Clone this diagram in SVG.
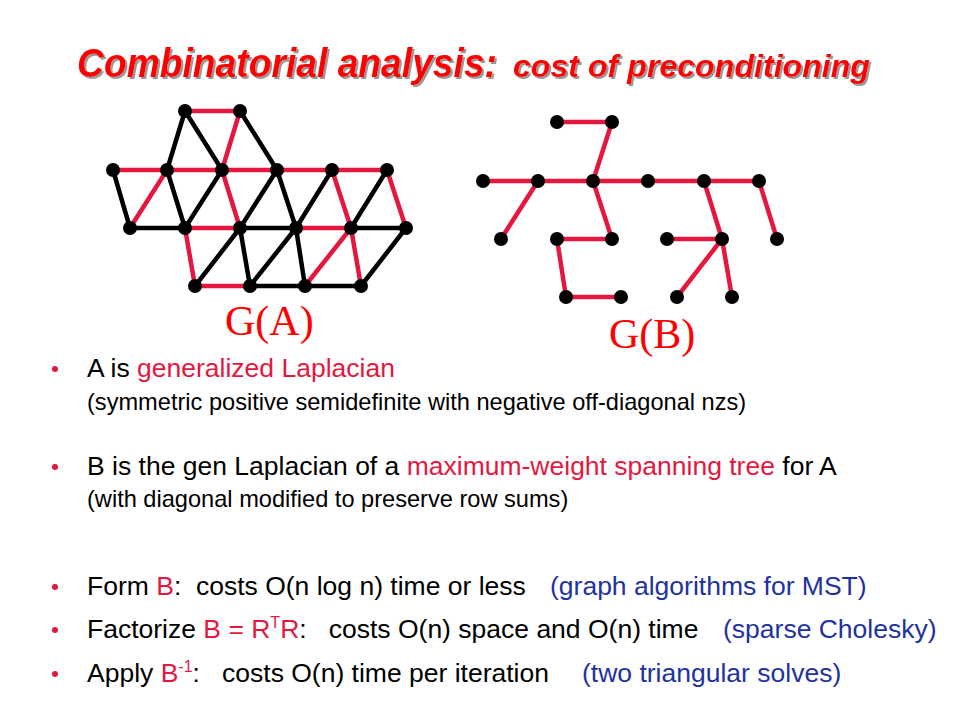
<svg xmlns="http://www.w3.org/2000/svg" width="960" height="720" viewBox="0 0 960 720">
<defs>
<filter id="sh" x="-5%" y="-20%" width="110%" height="150%">
<feDropShadow dx="2" dy="2" stdDeviation="0.6" flood-color="#9a9a9a" flood-opacity="1"/>
</filter>
</defs>
<style>
.r{stroke:#E5173F;stroke-width:4.5;stroke-linecap:round}
.k{stroke:#000;stroke-width:4.5;stroke-linecap:round}
.n{fill:#000}
.t{font-family:"Liberation Sans",Arial,sans-serif;font-size:26.5px;fill:#000;white-space:pre}
.s{font-family:"Liberation Sans",Arial,sans-serif;font-size:23.6px;fill:#000;white-space:pre}
.red{fill:#E5173F}
.blue{fill:#1E32A0}
.g{font-family:"Liberation Serif","Times New Roman",serif;font-size:42px;fill:#F00}
.ttl{font-family:"Liberation Sans",Arial,sans-serif;font-weight:bold;font-style:italic;fill:#F00;filter:url(#sh)}
</style>
<rect width="960" height="720" fill="#fff"/>
<g id="title">
<text class="ttl" x="77" y="77" font-size="40" textLength="420" lengthAdjust="spacingAndGlyphs">Combinatorial analysis:</text>
<text class="ttl" x="513" y="77" font-size="32" textLength="357" lengthAdjust="spacingAndGlyphs">cost of preconditioning</text>
</g>
<g id="connectors-A">
<line class="r" x1="185" y1="111" x2="240" y2="111"/>
<line class="k" x1="185" y1="111" x2="167" y2="170"/>
<line class="k" x1="185" y1="111" x2="222" y2="170"/>
<line class="r" x1="240" y1="111" x2="222" y2="170"/>
<line class="k" x1="240" y1="111" x2="277" y2="170"/>
<line class="r" x1="113" y1="170" x2="387" y2="170"/>
<line class="k" x1="113" y1="170" x2="130" y2="228"/>
<line class="r" x1="167" y1="170" x2="130" y2="228"/>
<line class="k" x1="167" y1="170" x2="185" y2="228"/>
<line class="k" x1="222" y1="170" x2="185" y2="228"/>
<line class="r" x1="222" y1="170" x2="240" y2="228"/>
<line class="k" x1="277" y1="170" x2="240" y2="228"/>
<line class="k" x1="277" y1="170" x2="296" y2="228"/>
<line class="k" x1="332" y1="170" x2="296" y2="228"/>
<line class="r" x1="332" y1="170" x2="351" y2="228"/>
<line class="k" x1="387" y1="170" x2="351" y2="228"/>
<line class="r" x1="387" y1="170" x2="406" y2="228"/>
<line class="k" x1="130" y1="228" x2="185" y2="228"/>
<line class="r" x1="185" y1="228" x2="240" y2="228"/>
<line class="k" x1="240" y1="228" x2="296" y2="228"/>
<line class="r" x1="296" y1="228" x2="351" y2="228"/>
<line class="k" x1="351" y1="228" x2="406" y2="228"/>
<line class="r" x1="185" y1="228" x2="195" y2="286"/>
<line class="k" x1="240" y1="228" x2="195" y2="286"/>
<line class="k" x1="240" y1="228" x2="250" y2="286"/>
<line class="k" x1="296" y1="228" x2="250" y2="286"/>
<line class="k" x1="296" y1="228" x2="305" y2="286"/>
<line class="r" x1="351" y1="228" x2="305" y2="286"/>
<line class="r" x1="351" y1="228" x2="361" y2="286"/>
<line class="k" x1="406" y1="228" x2="361" y2="286"/>
<line class="r" x1="195" y1="286" x2="250" y2="286"/>
<line class="k" x1="250" y1="286" x2="361" y2="286"/>
</g>
<g id="connectors-B">
<line class="r" x1="557" y1="122" x2="612" y2="122"/>
<line class="r" x1="612" y1="122" x2="593" y2="181"/>
<line class="r" x1="483" y1="181" x2="759" y2="181"/>
<line class="r" x1="538" y1="181" x2="501" y2="239"/>
<line class="r" x1="593" y1="181" x2="612" y2="239"/>
<line class="r" x1="557" y1="239" x2="612" y2="239"/>
<line class="r" x1="557" y1="239" x2="566" y2="297"/>
<line class="r" x1="566" y1="297" x2="621" y2="297"/>
<line class="r" x1="704" y1="181" x2="722" y2="239"/>
<line class="r" x1="667" y1="239" x2="722" y2="239"/>
<line class="r" x1="722" y1="239" x2="677" y2="297"/>
<line class="r" x1="722" y1="239" x2="732" y2="297"/>
<line class="r" x1="759" y1="181" x2="777" y2="239"/>
</g>
<g id="nodes-A">
<g id="a-t1"><circle class="n" cx="185" cy="111" r="7"/></g>
<g id="a-t2"><circle class="n" cx="240" cy="111" r="7"/></g>
<g id="a-r2a"><circle class="n" cx="113" cy="170" r="7"/></g>
<g id="a-r2b"><circle class="n" cx="167" cy="170" r="7"/></g>
<g id="a-r2c"><circle class="n" cx="222" cy="170" r="7"/></g>
<g id="a-r2d"><circle class="n" cx="277" cy="170" r="7"/></g>
<g id="a-r2e"><circle class="n" cx="332" cy="170" r="7"/></g>
<g id="a-r2f"><circle class="n" cx="387" cy="170" r="7"/></g>
<g id="a-r3a"><circle class="n" cx="130" cy="228" r="7"/></g>
<g id="a-r3b"><circle class="n" cx="185" cy="228" r="7"/></g>
<g id="a-r3c"><circle class="n" cx="240" cy="228" r="7"/></g>
<g id="a-r3d"><circle class="n" cx="296" cy="228" r="7"/></g>
<g id="a-r3e"><circle class="n" cx="351" cy="228" r="7"/></g>
<g id="a-r3f"><circle class="n" cx="406" cy="228" r="7"/></g>
<g id="a-r4a"><circle class="n" cx="195" cy="286" r="7"/></g>
<g id="a-r4b"><circle class="n" cx="250" cy="286" r="7"/></g>
<g id="a-r4c"><circle class="n" cx="305" cy="286" r="7"/></g>
<g id="a-r4d"><circle class="n" cx="361" cy="286" r="7"/></g>
</g>
<g id="nodes-B">
<g id="b-t1"><circle class="n" cx="557" cy="122" r="7"/></g>
<g id="b-t2"><circle class="n" cx="612" cy="122" r="7"/></g>
<g id="b-r2a"><circle class="n" cx="483" cy="181" r="7"/></g>
<g id="b-r2b"><circle class="n" cx="538" cy="181" r="7"/></g>
<g id="b-r2c"><circle class="n" cx="593" cy="181" r="7"/></g>
<g id="b-r2d"><circle class="n" cx="648" cy="181" r="7"/></g>
<g id="b-r2e"><circle class="n" cx="704" cy="181" r="7"/></g>
<g id="b-r2f"><circle class="n" cx="759" cy="181" r="7"/></g>
<g id="b-r3a"><circle class="n" cx="501" cy="239" r="7"/></g>
<g id="b-r3b"><circle class="n" cx="557" cy="239" r="7"/></g>
<g id="b-r3c"><circle class="n" cx="612" cy="239" r="7"/></g>
<g id="b-r3d"><circle class="n" cx="667" cy="239" r="7"/></g>
<g id="b-r3e"><circle class="n" cx="722" cy="239" r="7"/></g>
<g id="b-r3f"><circle class="n" cx="777" cy="239" r="7"/></g>
<g id="b-r4a"><circle class="n" cx="566" cy="297" r="7"/></g>
<g id="b-r4b"><circle class="n" cx="621" cy="297" r="7"/></g>
<g id="b-r4c"><circle class="n" cx="677" cy="297" r="7"/></g>
<g id="b-r4d"><circle class="n" cx="732" cy="297" r="7"/></g>
</g>
<g id="labels">
<text class="g" x="225" y="335">G(A)</text>
<text class="g" x="609" y="348">G(B)</text>
</g>
<g id="bullets">
<circle class="red" cx="55" cy="369" r="3"/>
<text class="t" x="87" y="377">A is <tspan class="red">generalized Laplacian</tspan></text>
<text class="s" x="87" y="410">(symmetric positive semidefinite with negative off-diagonal nzs)</text>
<circle class="red" cx="55" cy="467" r="3"/>
<text class="t" x="87" y="475">B is the gen Laplacian of a <tspan class="red">maximum-weight spanning tree</tspan> for A</text>
<text class="s" x="87" y="507">(with diagonal modified to preserve row sums)</text>
<circle class="red" cx="55" cy="587" r="3"/>
<text class="t" x="87" y="595">Form <tspan class="red">B</tspan>:  costs O(n log n) time or less</text>
<text class="t blue" x="550" y="595">(graph algorithms for MST)</text>
<circle class="red" cx="55" cy="630" r="3"/>
<text class="t" x="87" y="638">Factorize <tspan class="red">B = R</tspan><tspan class="red" font-size="16" dy="-10">T</tspan><tspan class="red" dy="10">R</tspan>:   costs O(n) space and O(n) time</text>
<text class="t blue" x="723" y="638">(sparse Cholesky)</text>
<circle class="red" cx="55" cy="674" r="3"/>
<text class="t" x="87" y="682">Apply <tspan class="red">B</tspan><tspan class="red" font-size="16" dy="-10">-1</tspan><tspan dy="10">:   costs O(n) time per iteration</tspan></text>
<text class="t blue" x="582" y="682">(two triangular solves)</text>
</g>
</svg>
